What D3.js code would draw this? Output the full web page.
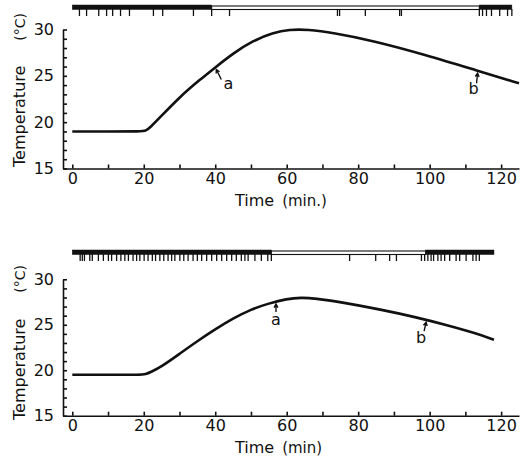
<!DOCTYPE html>
<html>
<head>
<meta charset="utf-8">
<script src="https://cdn.jsdelivr.net/npm/d3@7/dist/d3.min.js"></script>
<style>
  body { margin: 0; background: #fff; }
  svg { display: block; }
  text { font-family: "DejaVu Sans", sans-serif; fill: #111; }
</style>
</head>
<body>
<svg id="chart" width="526" height="457"></svg>
<script>
// ---- upper record ----
const timeA = [0, 10, 19.5, 20.5, 22, 24.5, 30, 35.6, 40.3, 44.9, 50.6, 56.1, 60.8, 65.9, 72.9, 84.1, 99, 113.4, 125];
const tempA = [19, 19, 19, 19.05, 19.5, 20.5, 22.7, 24.55, 26.0, 27.4, 28.8, 29.65, 30.0, 30.0, 29.65, 28.8, 27.25, 25.55, 24.2];
const phaseStartA = [0, 39, 113.9];
const phaseEndA = [39, 113.9, 123];
const phaseOnA = [true, false, true];
const eventsA = [2.0, 4.0, 7.4, 9.6, 11.3, 13.5, 16.0, 22.7, 25.3, 33.9, 39.0, 44.0,
  74.2, 74.8, 82.0, 91.6, 92.1, 113.9, 114.8, 115.9, 117.3, 119.6, 121.8, 123];
const markLabelsA = ["a", "b"];
const markTimeA = [40.3, 113.4];
const markTempA = [25.9, 25.5];

// ---- lower record ----
const timeB = [0, 10, 19, 20.5, 22, 25, 30, 35, 40, 45, 50, 55, 60, 64, 68, 75, 86, 96, 105, 113, 118];
const tempB = [19.5, 19.5, 19.5, 19.55, 19.8, 20.4, 21.8, 23.2, 24.5, 25.7, 26.7, 27.35, 27.85, 28.0, 27.9, 27.5, 26.7, 25.85, 24.95, 24.05, 23.35];
const phaseStartB = [0, 55.7, 98.9];
const phaseEndB = [55.7, 98.9, 118];
const phaseOnB = [true, false, true];
const eventsB = [2.2, 2.8, 3.4, 4.9, 5.6, 7.3, 8.7, 10.1, 11.0, 12.4, 13.6, 14.7, 15.7, 17.0,
  18.0, 18.9, 20.1, 21.2, 22.4, 23.3, 24.5, 25.6, 26.8, 27.8, 28.7, 30.1, 31.2, 32.4, 33.8,
  35.0, 36.2, 37.6, 39.0, 40.4, 41.8, 43.2, 44.6, 45.9, 47.3, 48.3, 49.2, 51.1, 52.9, 54.7, 55.7,
  77.6, 84.9, 88.8, 90.7,
  97.7, 98.6, 99.5, 100.4, 101.1, 102.3, 103.2, 104.2, 105.6, 107.4, 108.4, 110.2, 112.1, 113.0, 113.9];
const markLabelsB = ["a", "b"];
const markTimeB = [57, 99];
const markTempB = [27.5, 25.5];

const yTicks = d3.range(15, 31, 1);
const xTicks = d3.range(0, 121, 10);

const svg = d3.select("#chart");

function drawPanel(p) {
  const x = d3.scaleLinear().domain([-2.6, 125]).range([63, 519]);
  const y = d3.scaleLinear().domain([15, 30]).range([p.bottom, p.top]);
  const g = svg.append("g");

  // y axis
  g.append("g")
    .attr("transform", `translate(${x(-2.6)},0)`)
    .call(d3.axisLeft(y).tickValues(yTicks).tickSizeInner(-4).tickSizeOuter(0)
      .tickPadding(9).tickFormat(d => d % 5 === 0 ? d : ""))
    .call(a => a.selectAll("text").style("font-size", "16px"))
    .call(a => a.selectAll("path, line").attr("stroke", "#111").attr("stroke-width", 1.6));

  // x axis
  g.append("g")
    .attr("transform", `translate(0,${p.bottom})`)
    .call(d3.axisBottom(x).tickValues(xTicks).tickSizeInner(-4).tickSizeOuter(0)
      .tickPadding(4).tickFormat(d => d % 20 === 0 ? d : ""))
    .call(a => a.selectAll("text").style("font-size", "16px"))
    .call(a => a.selectAll("path, line").attr("stroke", "#111").attr("stroke-width", 1.6));

  // temperature curve
  const pts = p.time.map((t, i) => [t, p.temp[i]]);
  g.append("path")
    .datum(pts)
    .attr("fill", "none")
    .attr("stroke", "#111")
    .attr("stroke-width", 2.6)
    .attr("stroke-linejoin", "round")
    .attr("d", d3.line().x(d => x(d[0])).y(d => y(d[1])).curve(d3.curveBasis));

  // activity bar
  const bars = p.start.map((s, i) => ({ s, e: p.end[i], on: p.on[i] }));
  g.selectAll("rect.bar").data(bars).join("rect")
    .attr("x", d => x(d.s))
    .attr("width", d => x(d.e) - x(d.s))
    .attr("y", d => d.on ? p.barY : p.barY + 1)
    .attr("height", d => d.on ? 4.5 : 3.5)
    .attr("fill", d => d.on ? "#111" : "#fff")
    .attr("stroke", "#111")
    .attr("stroke-width", d => d.on ? 0.5 : 1.1);

  g.selectAll("line.ev").data(p.events).join("line")
    .attr("x1", d => x(d)).attr("x2", d => x(d))
    .attr("y1", p.barY + 4).attr("y2", p.barY + 11)
    .attr("stroke", "#111").attr("stroke-width", 1.3);

  // arrows a / b
  p.labels.forEach((lab, i) => {
    const tx = x(p.markT[i]), ty = y(p.markV[i]);
    const o = p.offsets[i];
    const tipX = tx, tipY = ty + 2;
    const tailX = tx + o[0], tailY = ty + o[1];
    const ang = Math.atan2(tipY - tailY, tipX - tailX);
    const h = 4;
    g.append("path")
      .attr("fill", "none").attr("stroke", "#111").attr("stroke-width", 1.4)
      .attr("d", `M${tailX},${tailY}L${tipX},${tipY}` +
        `M${tipX - h * Math.cos(ang - 0.5)},${tipY - h * Math.sin(ang - 0.5)}L${tipX},${tipY}` +
        `L${tipX - h * Math.cos(ang + 0.5)},${tipY - h * Math.sin(ang + 0.5)}`);
    g.append("text")
      .attr("x", tailX + o[2]).attr("y", tailY + o[3])
      .attr("text-anchor", "middle")
      .style("font-size", "16px")
      .text(lab);
  });

  // axis titles
  g.append("text")
    .attr("transform", `translate(25,${p.tempStart}) rotate(-90)`)
    .style("font-size", "16px")
    .text("Temperature");
  g.append("text")
    .attr("transform", `translate(25,${p.unitEnd}) rotate(-90)`)
    .attr("text-anchor", "end")
    .style("font-size", "14px")
    .text("(°C)");

  const xt = g.append("text")
    .attr("x", 235).attr("y", p.bottom + 37.5)
    .style("font-size", "16px");
  xt.append("tspan").text("Time");
  xt.append("tspan").style("font-size", "15px").attr("dx", 8).text(p.unitX);
}

drawPanel({
  top: 29.5, bottom: 168.5, barY: 5,
  time: timeA, temp: tempA,
  start: phaseStartA, end: phaseEndA, on: phaseOnA, events: eventsA,
  labels: markLabelsA, markT: markTimeA, markV: markTempA,
  offsets: [[5, 12, 7, 10], [-1, 12, -3, 11]],
  tempStart: 167, unitEnd: 13, unitX: "(min.)"
});

drawPanel({
  top: 279.3, bottom: 415.7, barY: 250,
  time: timeB, temp: tempB,
  start: phaseStartB, end: phaseEndB, on: phaseOnB, events: eventsB,
  labels: markLabelsB, markT: markTimeB, markV: markTempB,
  offsets: [[0, 10, 0, 13], [-2, 11, -3, 12]],
  tempStart: 420, unitEnd: 265, unitX: "(min)"
});
</script>
</body>
</html>
